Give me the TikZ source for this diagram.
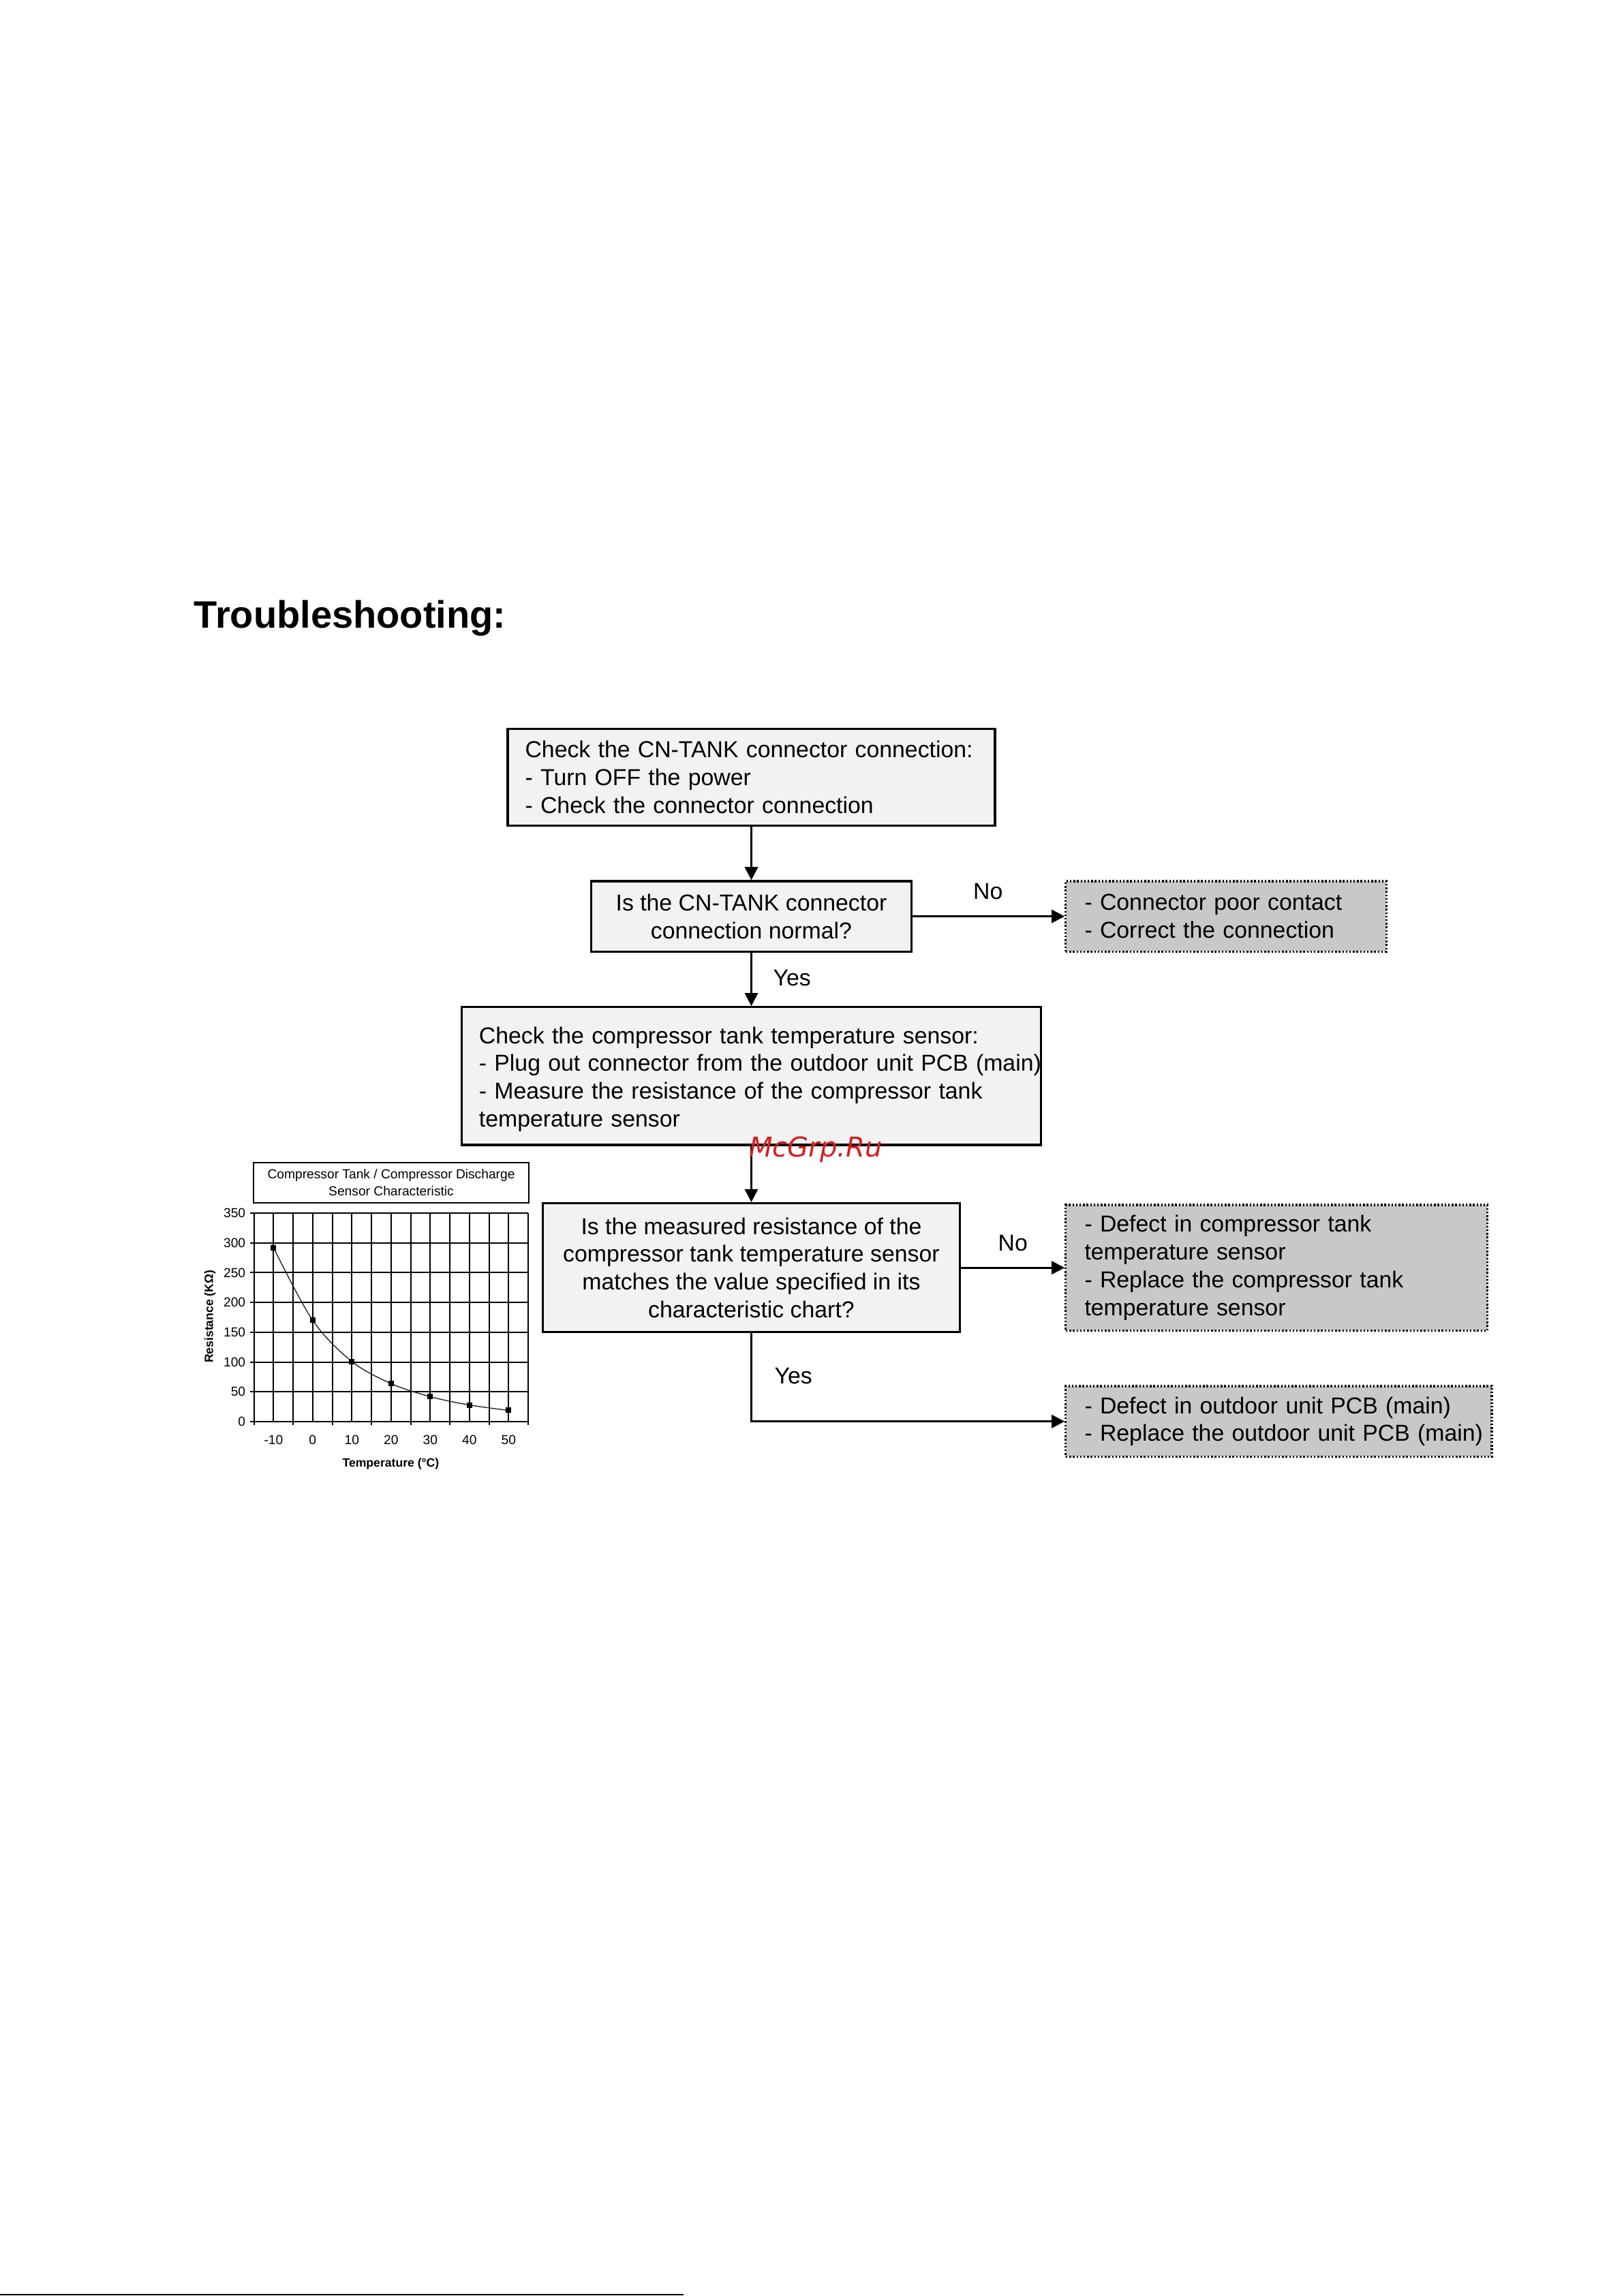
\documentclass[tikz,border=0pt]{standalone}
\usepackage{fontspec}
\setmainfont{Liberation Sans}
\newfontfamily\wmfont{DejaVu Sans}
\usetikzlibrary{arrows.meta}
\definecolor{boxfill}{HTML}{F2F2F2}
\definecolor{darkfill}{HTML}{C8C8C8}
\definecolor{wmred}{HTML}{D42020}
\begin{document}
\begin{tikzpicture}[x=1pt,y=-1pt,
  every node/.style={font=\fontsize{8.45}{10.2}\selectfont},
  flowbox/.style={draw=black, line width=0.8pt, fill=boxfill, inner xsep=6.4pt, inner ysep=0pt, rectangle},
  resbox/.style={draw=black, line width=0.8pt, fill=darkfill, dash pattern=on 0.6pt off 0.7pt, inner xsep=6.9pt, inner ysep=0pt, rectangle},
  flow/.style={line width=0.8pt, -{Triangle[length=4.8pt,width=4.8pt]}},
  lbl/.style={inner sep=0pt},
  chartfont/.style={font=\fontsize{4.8}{6.3}\selectfont, inner sep=0pt},
  axisfont/.style={font=\bfseries\fontsize{4.4}{5}\selectfont, inner sep=0pt},
  gridline/.style={line width=0.5pt, black},
]
\useasboundingbox (0,0) rectangle (595.28,841.89);

% title
\node[anchor=base west, inner sep=0pt, font=\bfseries\fontsize{14}{16}\selectfont] (title) at (71.0,230.2) {Troubleshooting:};

% flow boxes
\node[flowbox, text width=165.9pt, minimum height=35.4pt, align=left] (b1) at (275.5,285.0)
  {\mbox{Check the CN-TANK connector connection:}\\\mbox{- Turn OFF the power}\\\mbox{- Check the connector connection}};
\node[flowbox, minimum width=117.5pt, minimum height=25.8pt, align=center] (b2) at (275.5,336.0)
  {Is the CN-TANK connector\\connection normal?};
\node[flowbox, text width=199.7pt, minimum height=50.5pt, align=left] (b3) at (275.5,394.55)
  {\mbox{\rule{0pt}{8.5pt}Check the compressor tank temperature sensor:}\\\mbox{- Plug out connector from the outdoor unit PCB (main)}\\\mbox{- Measure the resistance of the compressor tank}\\\mbox{temperature sensor}};
\node[flowbox, minimum width=153pt, minimum height=47.3pt, align=center] (b4) at (275.5,464.85)
  {Is the measured resistance of the\\compressor tank temperature sensor\\matches the value specified in its\\characteristic chart?};

% result boxes
\node[resbox, text width=103.7pt, minimum height=25.8pt, align=left] (rA) at (449.55,336.0)
  {\mbox{- Connector poor contact}\\\mbox{- Correct the connection}};
\node[resbox, text width=140.8pt, minimum height=46.1pt, align=left] (rB) at (468.1,464.85)
  {\mbox{- Defect in compressor tank}\\\mbox{temperature sensor}\\\mbox{- Replace the compressor tank}\\\mbox{temperature sensor}};
\node[resbox, text width=142.4pt, minimum height=25.8pt, align=left] (rC) at (468.9,521.2)
  {\mbox{- Defect in outdoor unit PCB (main)}\\\mbox{- Replace the outdoor unit PCB (main)}};

% connectors
\draw[flow] (b1.south) -- (b2.north);
\draw[flow] (b2.south) -- (b3.north);
\draw[flow] (b3.south) -- (b4.north);
\draw[flow] (b2.east) -- (rA.west);
\draw[flow] (b4.east) -- (rB.west);
\draw[flow] (b4.south) |- (rC.west);

% labels
\node[lbl] (no1) at (362.3,326.9) {No};
\node[lbl] (yes1) at (290.4,358.6) {Yes};
\node[lbl] (no2) at (371.4,455.7) {No};
\node[lbl] (yes2) at (290.9,504.6) {Yes};

% watermark
\node[anchor=base, inner sep=0pt, text=wmred, font=\wmfont\itshape\fontsize{10}{12}\selectfont] (wm) at (299.1,424.3) {McGrp.Ru};

% chart title box
\node[draw=black, line width=0.5pt, minimum width=101.1pt, minimum height=14.9pt, inner sep=0pt, align=center, font=\fontsize{4.8}{6.3}\selectfont] (ctitle) at (143.45,433.65)
  {Compressor Tank / Compressor Discharge\\Sensor Characteristic};

% chart
\begin{scope}[shift={(93.1,521.3)}, x=1.437pt, y=0.2186pt]
  \foreach \u in {0,5,...,70} \draw[gridline] (\u,0) -- (\u,350);
  \foreach \v in {0,50,...,350} \draw[gridline] (0,\v) -- (70,\v);
  \foreach \v in {0,50,...,350} {
    \draw[gridline] (0,\v) -- ++(-1.3pt,0);
    \node[chartfont, anchor=east] at ([xshift=-2.9pt]0,\v) {\v};
  }
  \foreach \u in {0,10,...,70} \draw[gridline] (\u,0) -- ++(0,-1.3pt);
  \foreach \t in {-10,0,10,20,30,40,50} \node[chartfont] at ([yshift=-6.8pt]\t+15,0) {\t};
  \draw[line width=0.35pt, black!85] plot[smooth, tension=0.55] coordinates {(5,292) (15,170) (25,101) (35,64) (45,42) (55,28) (65,19)};
  \foreach \p in {(5,292),(15,170),(25,101),(35,64),(45,42),(55,28),(65,19)}
    \fill[black] \p ++(-1pt,-1pt) rectangle ++(2pt,2pt);
\end{scope}
\node[axisfont] (xlab) at (143.3,536.8) {Temperature (°C)};
\node[axisfont, rotate=90] (ylab) at (77.0,482.7) {Resistance (KΩ)};

% bottom edge line
\draw[line width=0.5pt] (0,841.5) -- (250.7,841.5);
\end{tikzpicture}
\end{document}
